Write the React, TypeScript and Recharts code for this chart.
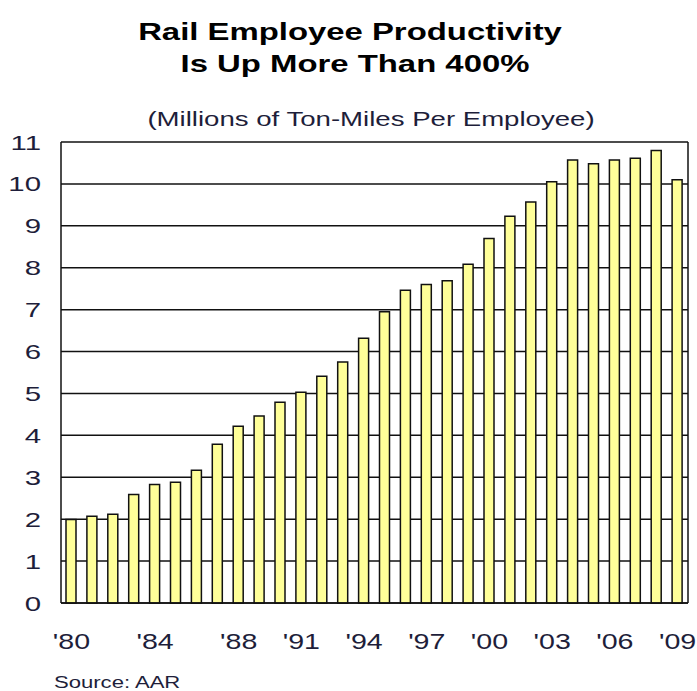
import React from 'react';
import { BarChart, Bar, XAxis, YAxis, CartesianGrid } from 'recharts';

const years = [
  '1980', '1981', '1982', '1983', '1984', '1985', '1986', '1987', '1988', '1989',
  '1990', '1991', '1992', '1993', '1994', '1995', '1996', '1997', '1998', '1999',
  '2000', '2001', '2002', '2003', '2004', '2005', '2006', '2007', '2008', '2009',
];
const productivity = [
  1.99, 2.07, 2.12, 2.59, 2.83, 2.88, 3.17, 3.79, 4.22, 4.46,
  4.79, 5.03, 5.41, 5.75, 6.32, 6.95, 7.46, 7.6, 7.69, 8.08,
  8.7, 9.23, 9.57, 10.05, 10.57, 10.48, 10.57, 10.61, 10.8, 10.1,
];
const labeledYears = ['1980', '1984', '1988', '1991', '1994', '1997', '2000', '2003', '2006', '2009'];
const yTicks = [0, 1, 2, 3, 4, 5, 6, 7, 8, 9, 10, 11];

const data = years.map((y, i) => ({ year: y, value: productivity[i] }));

const FONT = '"Liberation Sans", Arial, sans-serif';
const TEXT = '#1e1e3a';
const SX = 1.4;

const YTick = (props: any) => {
  const { x, y, payload } = props;
  return (
    <text
      x={0}
      y={0}
      dy="0.36em"
      textAnchor="end"
      fontFamily={FONT}
      fontSize={21}
      fill={TEXT}
      transform={`translate(${x},${y}) scale(${SX},1)`}
    >
      {payload.value}
    </text>
  );
};

const XTick = (props: any) => {
  const { x, y, payload } = props;
  if (!labeledYears.includes(payload.value)) return null;
  return (
    <text
      x={0}
      y={0}
      textAnchor="middle"
      fontFamily={FONT}
      fontSize={22}
      fill={TEXT}
      transform={`translate(${x},${y + 46}) scale(1.3,1)`}
    >
      {"'" + String(payload.value).slice(2)}
    </text>
  );
};

export default function App() {
  return (
    <div style={{ position: 'absolute', left: 0, top: 0, width: 697, height: 691, background: '#fff' }}>
      <BarChart
        width={697}
        height={691}
        data={data}
        margin={{ top: 142, right: 8, bottom: 58, left: 0 }}
      >
        <CartesianGrid vertical={false} stroke="#111" strokeWidth={1.5} />
        <XAxis
          dataKey="year"
          interval={0}
          height={30}
          tickLine={false}
          tickSize={0}
          tickMargin={0}
          axisLine={{ stroke: '#111', strokeWidth: 1.5 }}
          tick={<XTick />}
        />
        <YAxis
          domain={[0, 11]}
          ticks={yTicks}
          interval={0}
          width={61}
          tickLine={false}
          tickSize={0}
          tickMargin={20}
          axisLine={{ stroke: '#111', strokeWidth: 1.5 }}
          tick={<YTick />}
        />
        <YAxis
          yAxisId="right"
          orientation="right"
          width={1}
          domain={[0, 11]}
          tick={false}
          tickLine={false}
          axisLine={{ stroke: '#111', strokeWidth: 1.5 }}
        />
        <Bar
          dataKey="value"
          fill="#FFFF99"
          stroke="#111"
          strokeWidth={1.5}
          barSize={10}
          isAnimationActive={false}
        />
      </BarChart>
      <svg
        width={697}
        height={691}
        style={{ position: 'absolute', left: 0, top: 0, pointerEvents: 'none' }}
      >
        <g fontFamily={FONT} fill="#000">
          <text
            x={0}
            y={0}
            textAnchor="middle"
            fontSize={23}
            fontWeight="bold"
            transform={`translate(350,40) scale(1.43,1)`}
          >
            Rail Employee Productivity
          </text>
          <text
            x={0}
            y={0}
            textAnchor="middle"
            fontSize={23}
            fontWeight="bold"
            transform={`translate(355,72) scale(1.43,1)`}
          >
            Is Up More Than 400%
          </text>
          <text
            x={0}
            y={0}
            textAnchor="middle"
            fontSize={20}
            fill={TEXT}
            transform={`translate(371,126) scale(1.38,1)`}
          >
            (Millions of Ton-Miles Per Employee)
          </text>
          <text
            x={0}
            y={0}
            textAnchor="start"
            fontSize={16}
            fill={TEXT}
            transform={`translate(54,688) scale(1.38,1)`}
          >
            Source: AAR
          </text>
        </g>
      </svg>
    </div>
  );
}
